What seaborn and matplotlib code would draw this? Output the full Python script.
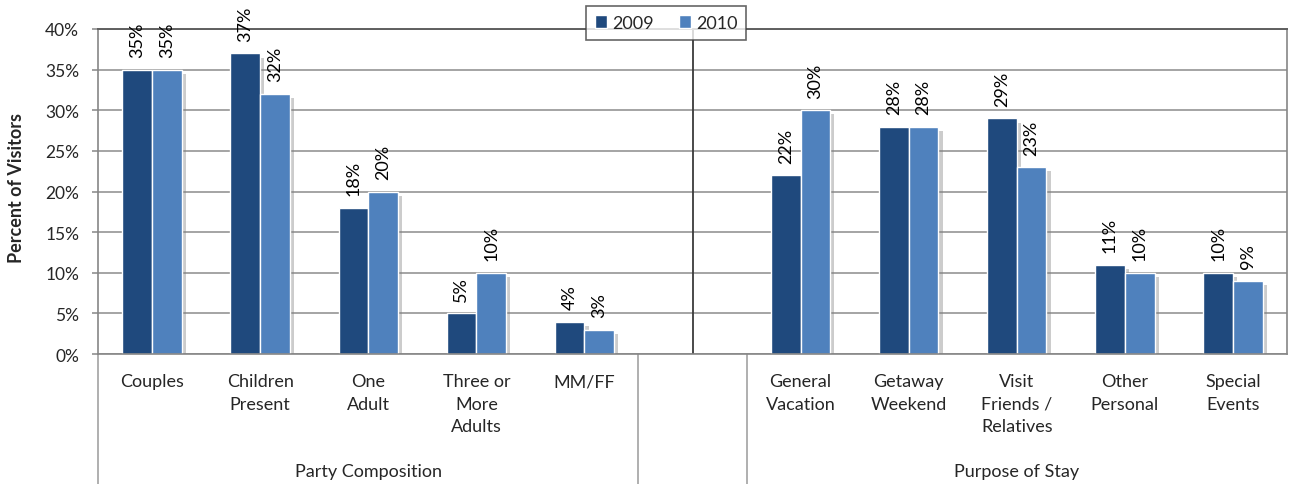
import numpy as np
import pandas as pd
import matplotlib
matplotlib.use("Agg")
import matplotlib.pyplot as plt
import matplotlib.patheffects as pe
import matplotlib.transforms as mtransforms
from matplotlib.lines import Line2D
from matplotlib.patches import Patch
import seaborn as sns

# ---- data ----
categories = ["Couples", "Children\nPresent", "One\nAdult", "Three or\nMore\nAdults", "MM/FF",
              " ",
              "General\nVacation", "Getaway\nWeekend", "Visit\nFriends /\nRelatives",
              "Other\nPersonal", "Special\nEvents"]
values_2009 = [35, 37, 18, 5, 4, np.nan, 22, 28, 29, 11, 10]
values_2010 = [35, 32, 20, 10, 3, np.nan, 30, 28, 23, 10, 9]
series = ["2009", "2010"]
groups = ["Party Composition", "Purpose of Stay"]
group_spans = [(0, 4), (6, 10)]
y_ticks = [0, 5, 10, 15, 20, 25, 30, 35, 40]

colors = {"2009": "#1F497D", "2010": "#4F81BD"}

rows = []
for c, a, b in zip(categories, values_2009, values_2010):
    rows.append({"cat": c, "year": "2009", "val": a})
    rows.append({"cat": c, "year": "2010", "val": b})
df = pd.DataFrame(rows)

sns.set_theme(style="white")
plt.rcParams["font.family"] = ["Lato", "DejaVu Sans"]

fig = plt.figure(figsize=(12.97, 4.85), dpi=100)
ax = fig.add_axes([98 / 1297, 130 / 485, (1287 - 98) / 1297, 325 / 485])

sns.barplot(data=df, x="cat", y="val", hue="year", order=categories,
            hue_order=series, palette=colors, saturation=1, width=0.55, dodge=True,
            edgecolor="white", linewidth=1.0, ax=ax, legend=False, errorbar=None)

shadow = [pe.SimplePatchShadow(offset=(3, -3), shadow_rgbFace="#808080", alpha=0.4), pe.Normal()]
for p in ax.patches:
    p.set_path_effects(shadow)

# data labels
for cont in ax.containers:
    for p in cont.patches:
        if p is None:
            continue
        h = p.get_height()
        if h is None or np.isnan(h):
            continue
        ax.annotate(f"{int(round(h))}%", (p.get_x() + p.get_width() / 2, h),
                    xytext=(0, 9), textcoords="offset points", rotation=90,
                    ha="center", va="bottom", fontsize=13, color="black")

ax.set_ylim(0, 40)
ax.set_xlim(-0.5, len(categories) - 0.5)
ax.set_yticks(y_ticks)
ax.set_yticklabels([f"{t}%" for t in y_ticks], fontsize=12.5)
ax.yaxis.grid(True, color="#8c8c8c", linewidth=1.1)
ax.set_axisbelow(True)
ax.tick_params(axis="y", length=4.5, width=1.1, color="#868686", pad=9, left=True)
ax.tick_params(axis="x", length=0, pad=14)
ax.set_xticks(range(len(categories)))
ax.set_xticklabels(categories, fontsize=13, linespacing=1.5, va="top")
ax.set_xlabel("")
ax.set_ylabel("Percent of Visitors", fontsize=13, fontweight="bold")
ax.yaxis.label.set_va("center")
ax.yaxis.set_label_coords((17 - 98) / 1189, 0.514)

for s in ["left", "bottom"]:
    ax.spines[s].set_color("#868686")
    ax.spines[s].set_linewidth(1.2)
ax.spines["top"].set_color("#5f5f5f")
ax.spines["top"].set_linewidth(1.4)
ax.spines["right"].set_color("#868686")
ax.spines["right"].set_linewidth(1.2)

# vertical separator in the blank category
ax.axvline(5, color="#3a3a3a", linewidth=1.3, zorder=1)

# multi-level axis: dividers and group labels
trans = mtransforms.blended_transform_factory(ax.transData, ax.transAxes)
for xb in [-0.5, 4.5, 5.5]:
    ax.add_line(Line2D([xb, xb], [0, -0.41], transform=trans, color="#9a9a9a",
                       linewidth=1.1, clip_on=False))
for g, (a, b) in zip(groups, group_spans):
    ax.text((a + b) / 2, -0.36, g, transform=trans, ha="center", va="center", fontsize=13)

# legend
handles = [Patch(facecolor=colors[s], edgecolor="white", label=s) for s in series]
leg = fig.legend(handles=handles, loc="center", bbox_to_anchor=(666 / 1297, 1 - 24 / 485),
                 ncol=2, frameon=True, fancybox=False, fontsize=13, handlelength=0.7,
                 handleheight=0.7, handletextpad=0.25, columnspacing=1.4, borderpad=0.5)
leg.get_frame().set_edgecolor("#404040")
leg.get_frame().set_linewidth(1.2)
leg.get_frame().set_facecolor("white")

fig.savefig("out.png", dpi=100)
